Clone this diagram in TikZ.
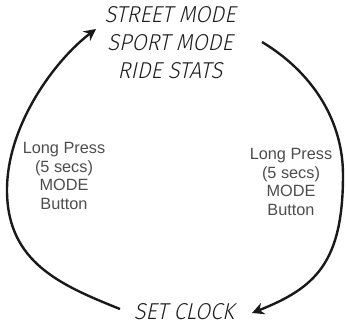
\documentclass[tikz,border=0pt]{standalone}
\usepackage{fontspec}
\setmainfont{Liberation Sans}
\newfontfamily\lcdfont{Fira Sans}[UprightFont={* Light},FakeSlant=0.22,FakeStretch=0.95]
\usetikzlibrary{arrows.meta}
\definecolor{labelgray}{RGB}{77,77,77}
\definecolor{lcdblack}{RGB}{30,30,30}
\tikzset{
  lcd/.style={font=\lcdfont\fontsize{23}{28}\selectfont, text=lcdblack, align=center, inner sep=0pt},
  presslabel/.style={font=\fontsize{16.3}{18.7}\selectfont, text=labelgray, align=center, inner sep=0pt},
  looparrow/.style={line width=2.4pt, draw=black!90, -{Stealth[length=12pt,width=12pt,inset=4pt]}}
}
\begin{document}
\begin{tikzpicture}[x=1pt,y=-1pt]
\useasboundingbox (0,0) rectangle (346,327);
\node[lcd] (modes) at (170,43) {STREET MODE\\SPORT MODE\\RIDE STATS};
\node[lcd] (clock) at (184,312) {SET CLOCK};
\node[presslabel] (leftlabel) at (64,176) {Long Press\\(5 secs)\\MODE\\Button};
\node[presslabel] (rightlabel) at (291,182) {Long Press\\(5 secs)\\MODE\\Button};
\coordinate (L0) at (120,309);
\coordinate (Lmid) at (7,190);
\coordinate (L1) at (96,29);
\coordinate (R0) at (262,42);
\coordinate (Rmid) at (343,175);
\coordinate (R1) at (252,313);
\draw[looparrow] (L0) .. controls (60,285) and (7,262) .. (Lmid)
                      .. controls (7,125) and (55,60) .. (L1);
\draw[looparrow] (R0) .. controls (312,72) and (343,120) .. (Rmid)
                      .. controls (343,263) and (315,288) .. (R1);
\end{tikzpicture}
\end{document}
